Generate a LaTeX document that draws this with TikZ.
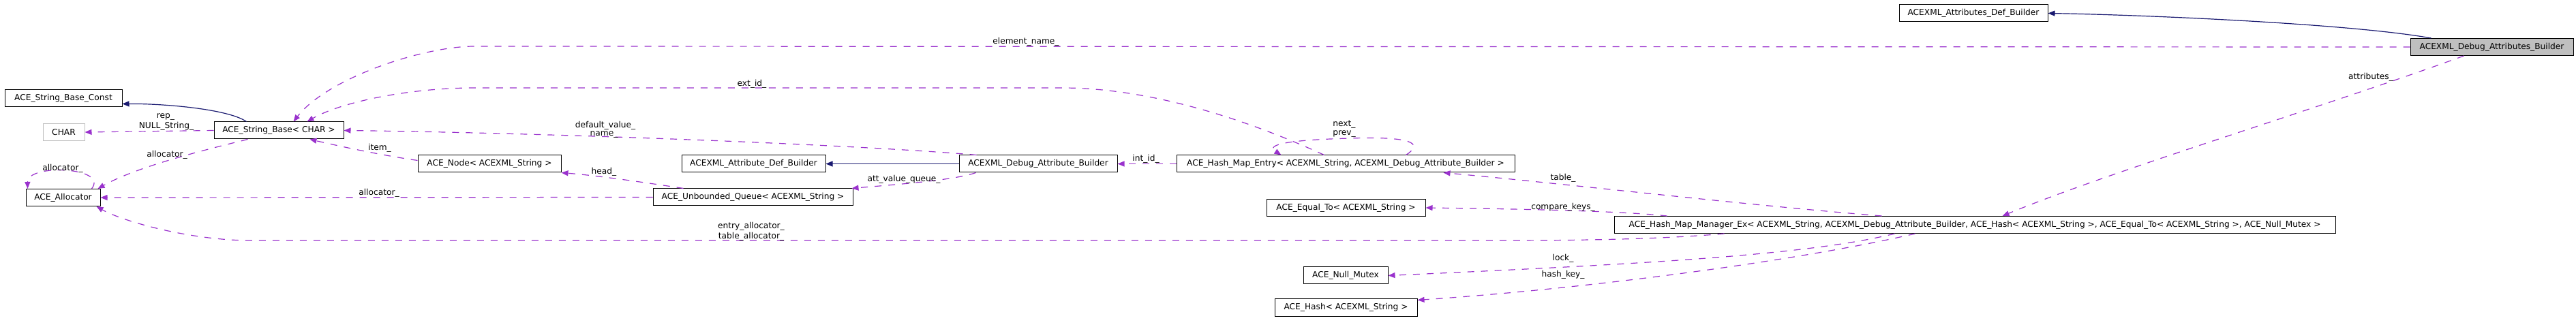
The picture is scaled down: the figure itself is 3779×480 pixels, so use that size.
\documentclass[tikz,border=0pt]{standalone}
\usepackage{fontspec}
\setmainfont{DejaVu Sans}
\usetikzlibrary{arrows.meta}
\definecolor{usecol}{HTML}{9A32CD}
\definecolor{inhcol}{HTML}{191970}
\definecolor{hilite}{HTML}{BFBFBF}

\begin{document}
\begin{tikzpicture}[x=0.5pt,y=-0.5pt,
   font=\fontsize{6.1}{7}\selectfont,
   cls/.style={draw=black,line width=0.5pt,minimum height=12.5pt,inner sep=2pt,fill=white},
   member/.style={draw=usecol,dash pattern=on 5pt off 5pt,line width=0.6pt,-{Triangle[length=5pt,width=4pt]}},
   derived/.style={draw=inhcol,line width=0.6pt,-{Triangle[length=5pt,width=4pt]}},
   lbl/.style={inner sep=0pt}]
   \useasboundingbox (0,0) rectangle (3779,480);

   % classes
   \node[cls,fill=hilite,minimum width=119.5pt] (dab) at (3655.5,69) {ACEXML\_Debug\_Attributes\_Builder};
   \node[cls,minimum width=109pt] (adb) at (2895,19.5) {ACEXML\_Attributes\_Def\_Builder};
   \node[cls,minimum width=86pt] (sbc) at (93,144.5) {ACE\_String\_Base\_Const};
   \node[cls,draw=hilite,minimum width=30.5pt] (chr) at (93.5,194) {CHAR};
   \node[cls,minimum width=95pt] (sb) at (409,191.5) {ACE\_String\_Base< CHAR >};
   \node[cls,minimum width=54.5pt] (alloc) at (92.5,290) {ACE\_Allocator};
   \node[cls,minimum width=105pt] (anode) at (718,240.5) {ACE\_Node< ACEXML\_String >};
   \node[cls,minimum width=105.5pt] (attdef) at (1105.5,240.5) {ACEXML\_Attribute\_Def\_Builder};
   \node[cls,minimum width=116pt] (dbg) at (1523,240.5) {ACEXML\_Debug\_Attribute\_Builder};
   \node[cls,minimum width=146.5pt] (queue) at (1104.5,289.5) {ACE\_Unbounded\_Queue< ACEXML\_String >};
   \node[cls,minimum width=248pt] (entry) at (1974,240.5) {ACE\_Hash\_Map\_Entry< ACEXML\_String, ACEXML\_Debug\_Attribute\_Builder >};
   \node[cls,minimum width=116.5pt] (eq) at (1974.5,305) {ACE\_Equal\_To< ACEXML\_String >};
   \node[cls,minimum width=529pt] (mgr) at (2897,330) {ACE\_Hash\_Map\_Manager\_Ex< ACEXML\_String, ACEXML\_Debug\_Attribute\_Builder, ACE\_Hash< ACEXML\_String >, ACE\_Equal\_To< ACEXML\_String >, ACE\_Null\_Mutex >};
   \node[cls,minimum width=62pt] (mutex) at (1974,404.5) {ACE\_Null\_Mutex};
   \node[cls,minimum width=104.5pt] (hash) at (1974.5,451.5) {ACE\_Hash< ACEXML\_String >};

   % inheritance
   \draw[derived] ([xshift=15.5pt]dab.north west)
   .. controls (3450,35) and (3150,22) .. (adb.east);
   \draw[derived] ([xshift=24pt]sb.north west)
   .. controls (335,160) and (240,152) .. ([yshift=2.5pt]sbc.south east);
   \draw[derived] (dbg.west) -- (attdef.east);

   % members
   \draw[member] (dab.west) -- (696,68)
   .. controls (620,68) and (480,115) .. ([xshift=58.5pt]sb.north west);
   \draw[member] ([xshift=108.5pt]entry.north west)
   .. controls (1850,185) and (1700,129) .. (1558,129) -- (696,129)
   .. controls (600,129) and (500,150) .. ([xshift=68.5pt]sb.north west);
   \draw[member] ([xshift=13pt]dbg.north west)
   .. controls (1250,212) and (800,195) .. (sb.east);
   \draw[member] (sb.west) -- (chr.east);
   \draw[member] ([xshift=25pt]sb.south west)
   .. controls (300,220) and (200,245) .. ([xshift=-2pt]alloc.north east);
   \draw[member] ([xshift=48.5pt]alloc.north west)
   .. controls (160,245) and (40,240) .. ([xshift=1.5pt]alloc.north west);
   \draw[member] ([yshift=2.5pt]anode.west)
   .. controls (560,228) and (500,215) .. ([xshift=70.5pt]sb.south west);
   \draw[member] (queue.west) -- (alloc.east);
   \draw[member] ([xshift=22.5pt]queue.north west)
   .. controls (960,270) and (880,258) .. (anode.south east);
   \draw[member] ([xshift=12.5pt]dbg.south west)
   .. controls (1400,265) and (1300,272) .. ([xshift=-1pt]queue.north east);
   \draw[member] (entry.west) -- (dbg.east);
   \draw[member] ([xshift=168.5pt]entry.north west)
   .. controls (2090,210) and (2070,200) .. (1980,203)
   .. controls (1870,206) and (1860,215) .. ([xshift=77pt]entry.north west);
   \draw[member] ([xshift=196.5pt]mgr.north west)
   .. controls (2550,300) and (2300,270) .. ([xshift=196pt]entry.south west);
   \draw[member] ([xshift=39pt]mgr.north west)
   .. controls (2380,310) and (2250,307) .. (eq.east);
   \draw[member] ([xshift=81pt]mgr.south west)
   .. controls (2450,350) and (2350,353) .. (2200,353) -- (368,353)
   .. controls (280,353) and (180,325) .. ([xshift=-3pt]alloc.south east);
   \draw[member] ([xshift=206pt]mgr.south west)
   .. controls (2650,375) and (2400,388) .. (mutex.east);
   \draw[member] ([xshift=221pt]mgr.south west)
   .. controls (2650,380) and (2350,422) .. ([yshift=-1pt]hash.north east);
   \draw[member] ([xshift=39.5pt]dab.south west)
   .. controls (3400,160) and (3100,250) .. ([xshift=285pt]mgr.north west);

   % labels
   \node[lbl] (lElem) at (1505,61) {element\_name\_};
   \node[lbl] (lExt) at (1103,123) {ext\_id\_};
   \node[lbl] (lDef) at (888,184) {default\_value\_};
   \node[lbl] (lName) at (886,198) {name\_};
   \node[lbl] (lRep) at (243,172) {rep\_};
   \node[lbl] (lNull) at (244,185) {NULL\_String\_};
   \node[lbl] (lAllocA) at (245,227) {allocator\_};
   \node[lbl] (lAllocB) at (92,247) {allocator\_};
   \node[lbl] (lItem) at (557,217) {item\_};
   \node[lbl] (lAllocC) at (556,283) {allocator\_};
   \node[lbl] (lHead) at (886,252) {head\_};
   \node[lbl] (lAtt) at (1326,263) {att\_value\_queue\_};
   \node[lbl] (lInt) at (1681,233) {int\_id\_};
   \node[lbl] (lNext) at (1972,183) {next\_};
   \node[lbl] (lPrev) at (1972,197) {prev\_};
   \node[lbl] (lTable) at (2293,261) {table\_};
   \node[lbl] (lCmp) at (2293,304) {compare\_keys\_};
   \node[lbl] (lEntry) at (1102,332) {entry\_allocator\_};
   \node[lbl] (lTabA) at (1102,347) {table\_allocator\_};
   \node[lbl] (lLock) at (2293,379) {lock\_};
   \node[lbl] (lHash) at (2293,403) {hash\_key\_};
   \node[lbl] (lAttr) at (3478,113) {attributes\_};

\end{tikzpicture}
\end{document}
